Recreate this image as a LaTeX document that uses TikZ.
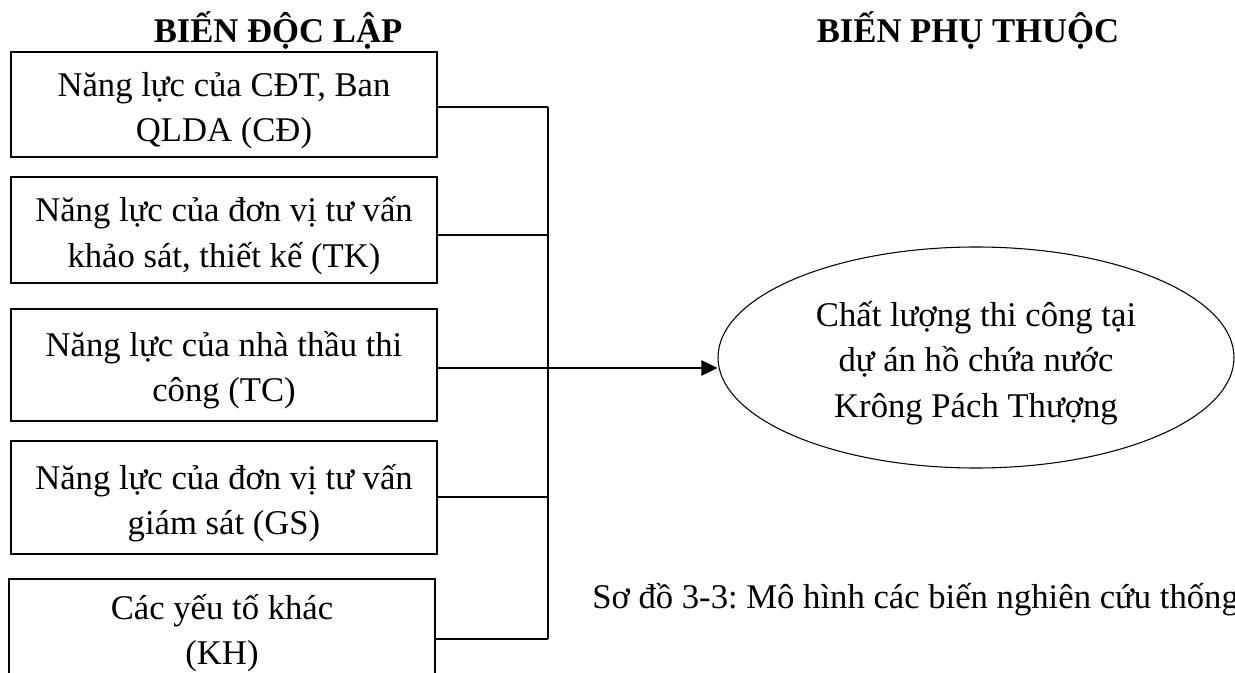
\documentclass[tikz,border=0pt]{standalone}
\usepackage{fontspec}
\setmainfont{Liberation Serif}
\usetikzlibrary{shapes.geometric,arrows.meta}
\newcommand{\toplift}{\rule{0pt}{27pt}}
\begin{document}
\frenchspacing
\begin{tikzpicture}[x=0.75pt,y=-0.75pt,
  every node/.style={font=\fontsize{26pt}{34.1pt}\selectfont},
  varbox/.style={draw, line width=1.2pt, minimum width=319.5pt, align=center, inner sep=0pt},
  link/.style={line width=1.5pt},
  title/.style={font=\fontsize{26pt}{34.1pt}\selectfont\bfseries, anchor=base, inner sep=0pt},
  target/.style={draw, ellipse, line width=0.8pt, minimum width=387pt, minimum height=165.75pt, inner sep=0pt, align=center}]
\useasboundingbox (0,0) rectangle (1235,673);
\clip (0,0) rectangle (1235,673);
% titles
\node[title] (t1) at (278,43) {BIẾN ĐỘC LẬP};
\node[title] (t2) at (968,43) {BIẾN PHỤ THUỘC};
% independent variables
\node[varbox, minimum height=78.75pt] (b1) at (224,104.5) {\toplift Năng lực của CĐT, Ban\\QLDA (CĐ)};
\node[varbox, minimum height=79.5pt] (b2) at (224,230) {\toplift Năng lực của đơn vị tư vấn\\khảo sát, thiết kế (TK)};
\node[varbox, minimum height=84pt] (b3) at (224,365) {\toplift Năng lực của nhà thầu thi\\công (TC)};
\node[varbox, minimum height=84.75pt] (b4) at (224,497.5) {\toplift Năng lực của đơn vị tư vấn\\giám sát (GS)};
\node[varbox, minimum height=81pt] (b5) at (222,633) {Các yếu tố khác\\(KH)};
% dependent variable
\node[target] (ell) at (976,357.5) {\toplift Chất lượng thi công tại\\dự án hồ chứa nước\\Krông Pách Thượng};
% caption
\node[anchor=base west, inner sep=0pt] (cap) at (592,608) {Sơ đồ 3-3: Mô hình các biến nghiên cứu thống};
% junctions on the bus
\coordinate (j1) at (548,107);
\coordinate (j2) at (548,235);
\coordinate (j3) at (548,368);
\coordinate (j4) at (548,497);
\coordinate (j5) at (548,639);
\draw[link] (j1) -- (j5);
\draw[link] (b1.east |- j1) -- (j1);
\draw[link] (b2.east |- j2) -- (j2);
\draw[link] (b4.east |- j4) -- (j4);
\draw[link] (b5.east |- j5) -- (j5);
\draw[link,-{Triangle[length=12pt,width=11.25pt]}] (b3.east |- j3) -- (ell.west |- j3);
\end{tikzpicture}
\end{document}
